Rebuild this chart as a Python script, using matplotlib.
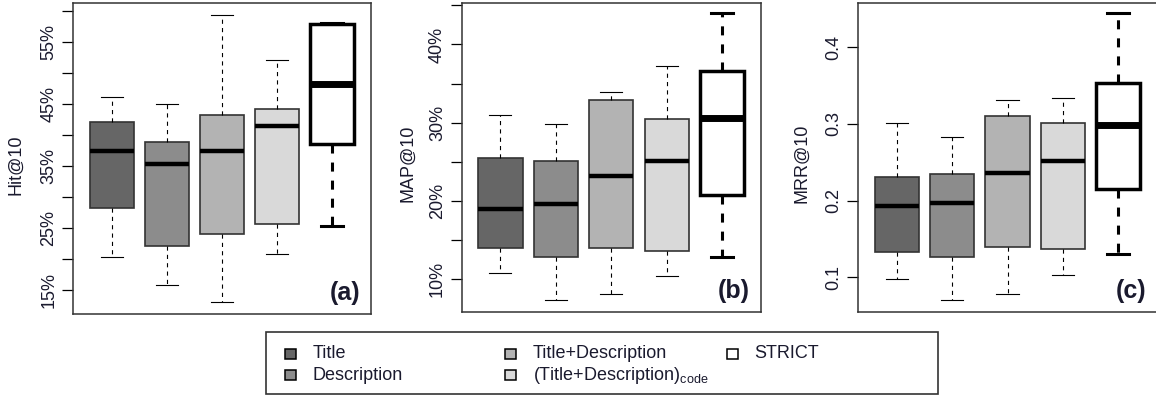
import matplotlib
matplotlib.use("Agg")
import matplotlib.pyplot as plt
from matplotlib.patches import Rectangle

plt.rcParams['font.family'] = 'Liberation Sans'
plt.rcParams['mathtext.fontset'] = 'custom'
plt.rcParams['mathtext.rm'] = 'Liberation Sans'
plt.rcParams['lines.scale_dashes'] = False

groups = ["Title", "Description", "Title+Description",
          "(Title+Description)$_\\mathrm{code}$", "STRICT"]
fills = ["#666666", "#8c8c8c", "#b3b3b3", "#d9d9d9", "#ffffff"]

# Hit@10 (%)
hit_lo = [20.4, 15.8, 13.1, 20.8, 25.4]
hit_q1 = [28.3, 22.1, 24.0, 25.6, 38.6]
hit_med = [37.4, 35.4, 37.4, 41.5, 48.3]
hit_q3 = [42.1, 38.9, 43.2, 44.2, 57.9]
hit_hi = [46.2, 45.0, 59.4, 52.1, 58.1]

# MAP@10 (%)
map_lo = [10.8, 7.4, 8.1, 10.4, 12.8]
map_q1 = [14.0, 12.8, 14.0, 13.65, 20.8]
map_med = [19.0, 19.6, 23.2, 25.1, 30.6]
map_q3 = [25.45, 25.1, 32.9, 30.5, 36.6]
map_hi = [31.0, 29.8, 33.9, 37.3, 44.0]

# MRR@10
mrr_lo = [0.098, 0.070, 0.078, 0.103, 0.131]
mrr_q1 = [0.133, 0.126, 0.140, 0.137, 0.215]
mrr_med = [0.193, 0.197, 0.236, 0.252, 0.298]
mrr_q3 = [0.231, 0.235, 0.310, 0.301, 0.353]
mrr_hi = [0.301, 0.283, 0.331, 0.334, 0.444]

hit_ticks = [15, 20, 25, 30, 35, 40, 45, 50, 55, 60]
hit_labels = ["15%", "", "25%", "", "35%", "", "45%", "", "55%", ""]
map_ticks = [10, 15, 20, 25, 30, 35, 40, 45]
map_labels = ["10%", "", "20%", "", "30%", "", "40%", ""]
mrr_ticks = [0.1, 0.2, 0.3, 0.4]
mrr_labels = ["0.1", "0.2", "0.3", "0.4"]

W, H = 1156, 400
txt = "#1a1a2e"
edge = "#333333"

fig = plt.figure(figsize=(W / 100, H / 100), dpi=100)

panels = [
    ("Hit@10", "(a)", hit_lo, hit_q1, hit_med, hit_q3, hit_hi, hit_ticks, hit_labels,
     (11.13, 61.3), [73, 3, 371, 314], -0.164),
    ("MAP@10", "(b)", map_lo, map_q1, map_med, map_q3, map_hi, map_ticks, map_labels,
     (5.82, 45.3), [461.5, 3, 761, 312], -0.150),
    ("MRR@10", "(c)", mrr_lo, mrr_q1, mrr_med, mrr_q3, mrr_hi, mrr_ticks, mrr_labels,
     (0.0548, 0.4576), [858, 3, 1157, 312], -0.161),
]

for name, tag, lo, q1, med, q3, hi, ticks, labels, ylim, box, labx in panels:
    x0, y0, x1, y1 = box
    ax = fig.add_axes([x0 / W, 1 - y1 / H, (x1 - x0) / W, (y1 - y0) / H])
    for i in range(5):
        st = dict(whislo=lo[i], q1=q1[i], med=med[i], q3=q3[i], whishi=hi[i], fliers=[])
        strict = (i == 4)
        wlw = 2.2 if strict else 0.8
        dash = (0, (6.5, 6.5)) if strict else (0, (3, 3))
        res = ax.bxp([st], positions=[i + 1], widths=0.8, capwidths=0.4,
                     patch_artist=True, showfliers=False, manage_ticks=False,
                     boxprops=dict(facecolor=fills[i], edgecolor="black" if strict else edge,
                                   linewidth=2.5 if strict else 1.2),
                     whiskerprops=dict(color="black", linewidth=wlw, linestyle=dash),
                     capprops=dict(color="black", linewidth=wlw),
                     medianprops=dict(color="black", linewidth=5.0 if strict else 3.2,
                                      solid_capstyle="butt"))
    ax.set_xlim(0.3, 5.7)
    ax.set_ylim(*ylim)
    ax.set_xticks([])
    ax.set_yticks(ticks)
    ax.set_yticklabels(labels)
    ax.tick_params(axis="y", length=8, width=0.9, pad=3.2, labelsize=13,
                   labelrotation=90, labelcolor=txt, color="black")
    for lab in ax.get_yticklabels():
        lab.set_va("center")
    for sp in ax.spines.values():
        sp.set_color(edge)
        sp.set_linewidth(1.1)
    ax.set_ylabel(name, fontsize=13, color=txt)
    ax.yaxis.set_label_coords(labx, 0.48)
    ax.text(0.963, 0.03, tag, transform=ax.transAxes, ha="right", va="bottom",
            fontsize=18, fontweight="bold", color=txt)

# legend box drawn in figure pixels
fig.add_artist(Rectangle((266 / W, 1 - 394 / H), (938 - 266) / W, (394 - 332) / H,
                         transform=fig.transFigure, fill=False, ec=edge, lw=1.2))
col_sq = [290, 510, 732]
col_tx = [313, 533, 754]
row_y = [353.5, 375]
for i, g in enumerate(groups):
    c, r = i // 2, i % 2
    fig.add_artist(Rectangle(((col_sq[c] - 5.5) / W, 1 - (row_y[r] + 5) / H), 11 / W, 10 / H,
                             transform=fig.transFigure, fc=fills[i], ec="black", lw=1.1))
    fig.text(col_tx[c] / W, 1 - row_y[r] / H, g, fontsize=13, color=txt,
             ha="left", va="center")

fig.savefig("out.png", dpi=100)
